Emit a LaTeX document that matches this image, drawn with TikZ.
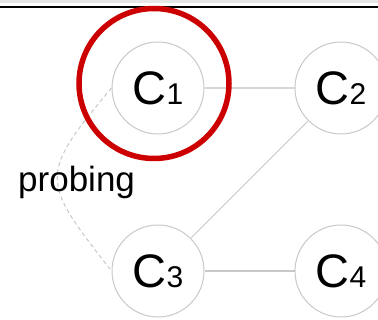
\documentclass[tikz,border=0pt]{standalone}
\usepackage{fontspec}
\setmainfont{Liberation Sans}
\definecolor{ringgray}{HTML}{C8C8C8}
\definecolor{linkgray}{HTML}{D6D6D6}
\definecolor{markred}{HTML}{CC0000}
\definecolor{bandgray}{HTML}{E6E6E6}
\newcommand{\clabel}[1]{\fontsize{47}{47}\selectfont C\fontsize{30}{30}\selectfont #1}
\begin{document}
\begin{tikzpicture}[x=1pt,y=-1pt,
  cnode/.style={circle, draw=ringgray, line width=1pt, minimum size=92pt, inner sep=0pt},
  link/.style={draw=ringgray, line width=1.2pt},
  probe/.style={draw=ringgray, line width=1pt, dash pattern=on 4pt off 3pt},
  marker/.style={circle, draw=markred, line width=5.5pt, minimum size=150pt, inner sep=0pt}]
  \useasboundingbox (0,0) rectangle (378,320);
  % header rule
  \fill[bandgray] (0,0) rectangle (378,3);
  \draw[line width=2pt] (0,7) -- (378,7);
  % cluster nodes
  \node[cnode] (c1) at (158,88) {\clabel{1}};
  \node[cnode] (c2) at (341,88) {\clabel{2}};
  \node[cnode] (c3) at (158,271) {\clabel{3}};
  \node[cnode] (c4) at (341,271) {\clabel{4}};
  % links
  \draw[draw=linkgray, line width=2.5pt] (c1) -- (c2);
  \draw[link, line width=1pt] (c2) -- (c3);
  \draw[link, line width=1.5pt] (c3) -- (c4);
  % probing path bulging to the left (y axis points down here)
  \draw[probe] (c1.west) .. controls +(130:115) and +(232:115) .. (c3.west);
  \node[anchor=base west, inner sep=0pt, font=\fontsize{35}{35}\selectfont] (lbl) at (18,192) {probing};
  % highlight ring
  \node[marker] (hl) at (154,83.5) {};
\end{tikzpicture}
\end{document}
